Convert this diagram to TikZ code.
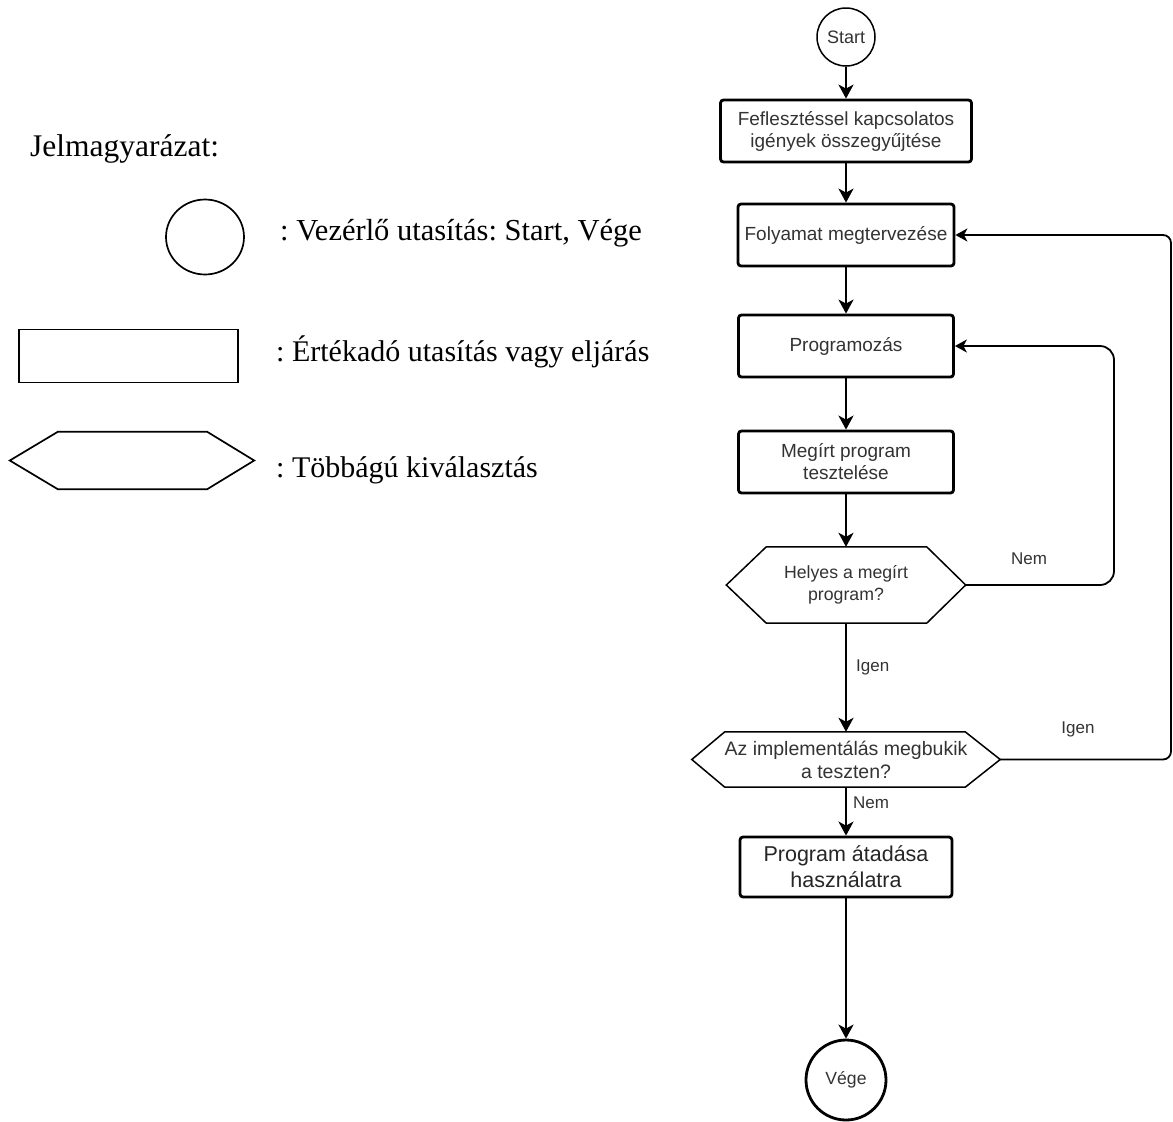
\documentclass[tikz,border=0pt]{standalone}
\usepackage{fontspec}
\setmainfont{Liberation Serif}
\newfontfamily\flowfont{Liberation Sans}
\usetikzlibrary{arrows.meta,shapes.geometric}
\definecolor{txtgray}{HTML}{333333}
\frenchspacing
\tikzset{
  procbox/.style={draw, line width=2.8pt, rounded corners=3pt, inner sep=0pt, align=center,
    text=txtgray, font=\flowfont\fontsize{19}{22}\selectfont},
  hexnode/.style={inner sep=0pt, align=center, text=txtgray, font=\flowfont\fontsize{17.7}{22}\selectfont},
  hexline/.style={line width=1.5pt, line join=miter},
  termnode/.style={draw, circle, inner sep=0pt, text=txtgray, font=\flowfont\fontsize{17.6}{20}\selectfont},
  conn/.style={line width=2.8pt, -{Stealth[length=14pt,width=15pt,inset=4pt]}},
  loopconn/.style={line width=1.8pt, -{Stealth[length=12pt,width=13pt,inset=3.5pt]}},
  lbl/.style={inner sep=0pt, text=txtgray, font=\flowfont\fontsize{17}{20}\selectfont},
  legtext/.style={inner sep=0pt, anchor=base west, font=\fontsize{30}{35}\selectfont},
  legshape/.style={draw, line width=1.7pt, inner sep=0pt}
}
\begin{document}
\begin{tikzpicture}[x=1pt,y=-1pt]
\useasboundingbox[fill=white] (0,0) rectangle (1173,1122);

% ---------- legend ----------
\node[legtext, font=\fontsize{31.5}{36}\selectfont] (legtitle) at (30,156) {Jelmagyarázat:};
\node[legshape, ellipse, minimum width=78pt, minimum height=75pt] (legcirc) at (205,237) {};
\node[legtext, font=\fontsize{30.5}{35}\selectfont] (legt1) at (280,240) {: Vezérlő utasítás: Start, Vége};
\node[legshape, rectangle, minimum width=219pt, minimum height=53pt] (legrect) at (128.5,356) {};
\node[legtext] (legt2) at (276,361) {: Értékadó utasítás vagy eljárás};
\node[inner sep=0pt, minimum width=244pt, minimum height=57pt] (leghex) at (132,460.5) {};
\draw[line width=1.7pt, line join=miter] (leghex.west) -- ([xshift=48pt]leghex.north west) -- ([xshift=-47pt]leghex.north east)
  -- (leghex.east) -- ([xshift=-47pt]leghex.south east) -- ([xshift=48pt]leghex.south west) -- cycle;
\node[legtext] (legt3) at (276,477) {: Többágú kiválasztás};

% ---------- flowchart ----------
\node[termnode, line width=1.5pt, minimum size=58pt, font=\flowfont\fontsize{18}{20}\selectfont] (start) at (846,37) {Start};
\node[procbox, minimum width=251pt, minimum height=62pt] (b1) at (846,131) {Feflesztéssel kapcsolatos\\igények összegyűjtése};
\node[procbox, minimum width=216pt, minimum height=62pt] (b2) at (846,235) {Folyamat megtervezése};
\node[procbox, minimum width=215pt, minimum height=62pt] (b3) at (846,346) {Programozás};
\node[procbox, minimum width=215pt, minimum height=62pt] (b4) at (846,462) {Megírt program\\tesztelése};

\node[hexnode, minimum width=239pt, minimum height=76pt] (h1) at (846,585) {Helyes a megírt\\program?};
\draw[hexline] (h1.west) -- ([xshift=40pt]h1.north west) -- ([xshift=-39pt]h1.north east)
  -- (h1.east) -- ([xshift=-39pt]h1.south east) -- ([xshift=40pt]h1.south west) -- cycle;

\node[hexnode, minimum width=308pt, minimum height=55pt, font=\flowfont\fontsize{19.5}{23}\selectfont] (h2) at (846,759.5) {Az implementálás megbukik\\a teszten?};
\draw[hexline] (h2.west) -- ([xshift=33pt]h2.north west) -- ([xshift=-35pt]h2.north east)
  -- (h2.east) -- ([xshift=-35pt]h2.south east) -- ([xshift=33pt]h2.south west) -- cycle;

\node[procbox, minimum width=212pt, minimum height=60pt, font=\flowfont\fontsize{21.5}{26}\selectfont, text=black!85] (b5) at (846,867) {Program átadása\\használatra};
\node[termnode, line width=2.8pt, minimum size=80pt] (vege) at (846,1080) {Vége};

% vertical connectors
\draw[conn] (start) -- (b1);
\draw[conn] (b1) -- (b2);
\draw[conn] (b2) -- (b3);
\draw[conn] (b3) -- (b4);
\draw[conn] (b4) -- (h1.north);
\draw[conn] (h1.south) -- (h2.north);
\draw[conn] (h2.south) -- (b5);
\draw[conn] (b5) -- (vege);

% loops
\coordinate (nemx) at (1114,0);
\coordinate (igenx) at (1171,0);
\draw[loopconn, rounded corners=14pt] (h1.east) -- (h1.east -| nemx) -- (nemx |- b3.east) -- (b3.east);
\draw[loopconn, rounded corners=8pt] (h2.east) -- (h2.east -| igenx) -- (igenx |- b2.east) -- (b2.east);

% labels
\node[lbl] (lnem1) at (1029,559) {Nem};
\node[lbl, anchor=west] (ligen1) at (856,667) {Igen};
\node[lbl] (ligen2) at (1078,729) {Igen};
\node[lbl, anchor=west] (lnem2) at (853,803) {Nem};
\end{tikzpicture}
\end{document}
